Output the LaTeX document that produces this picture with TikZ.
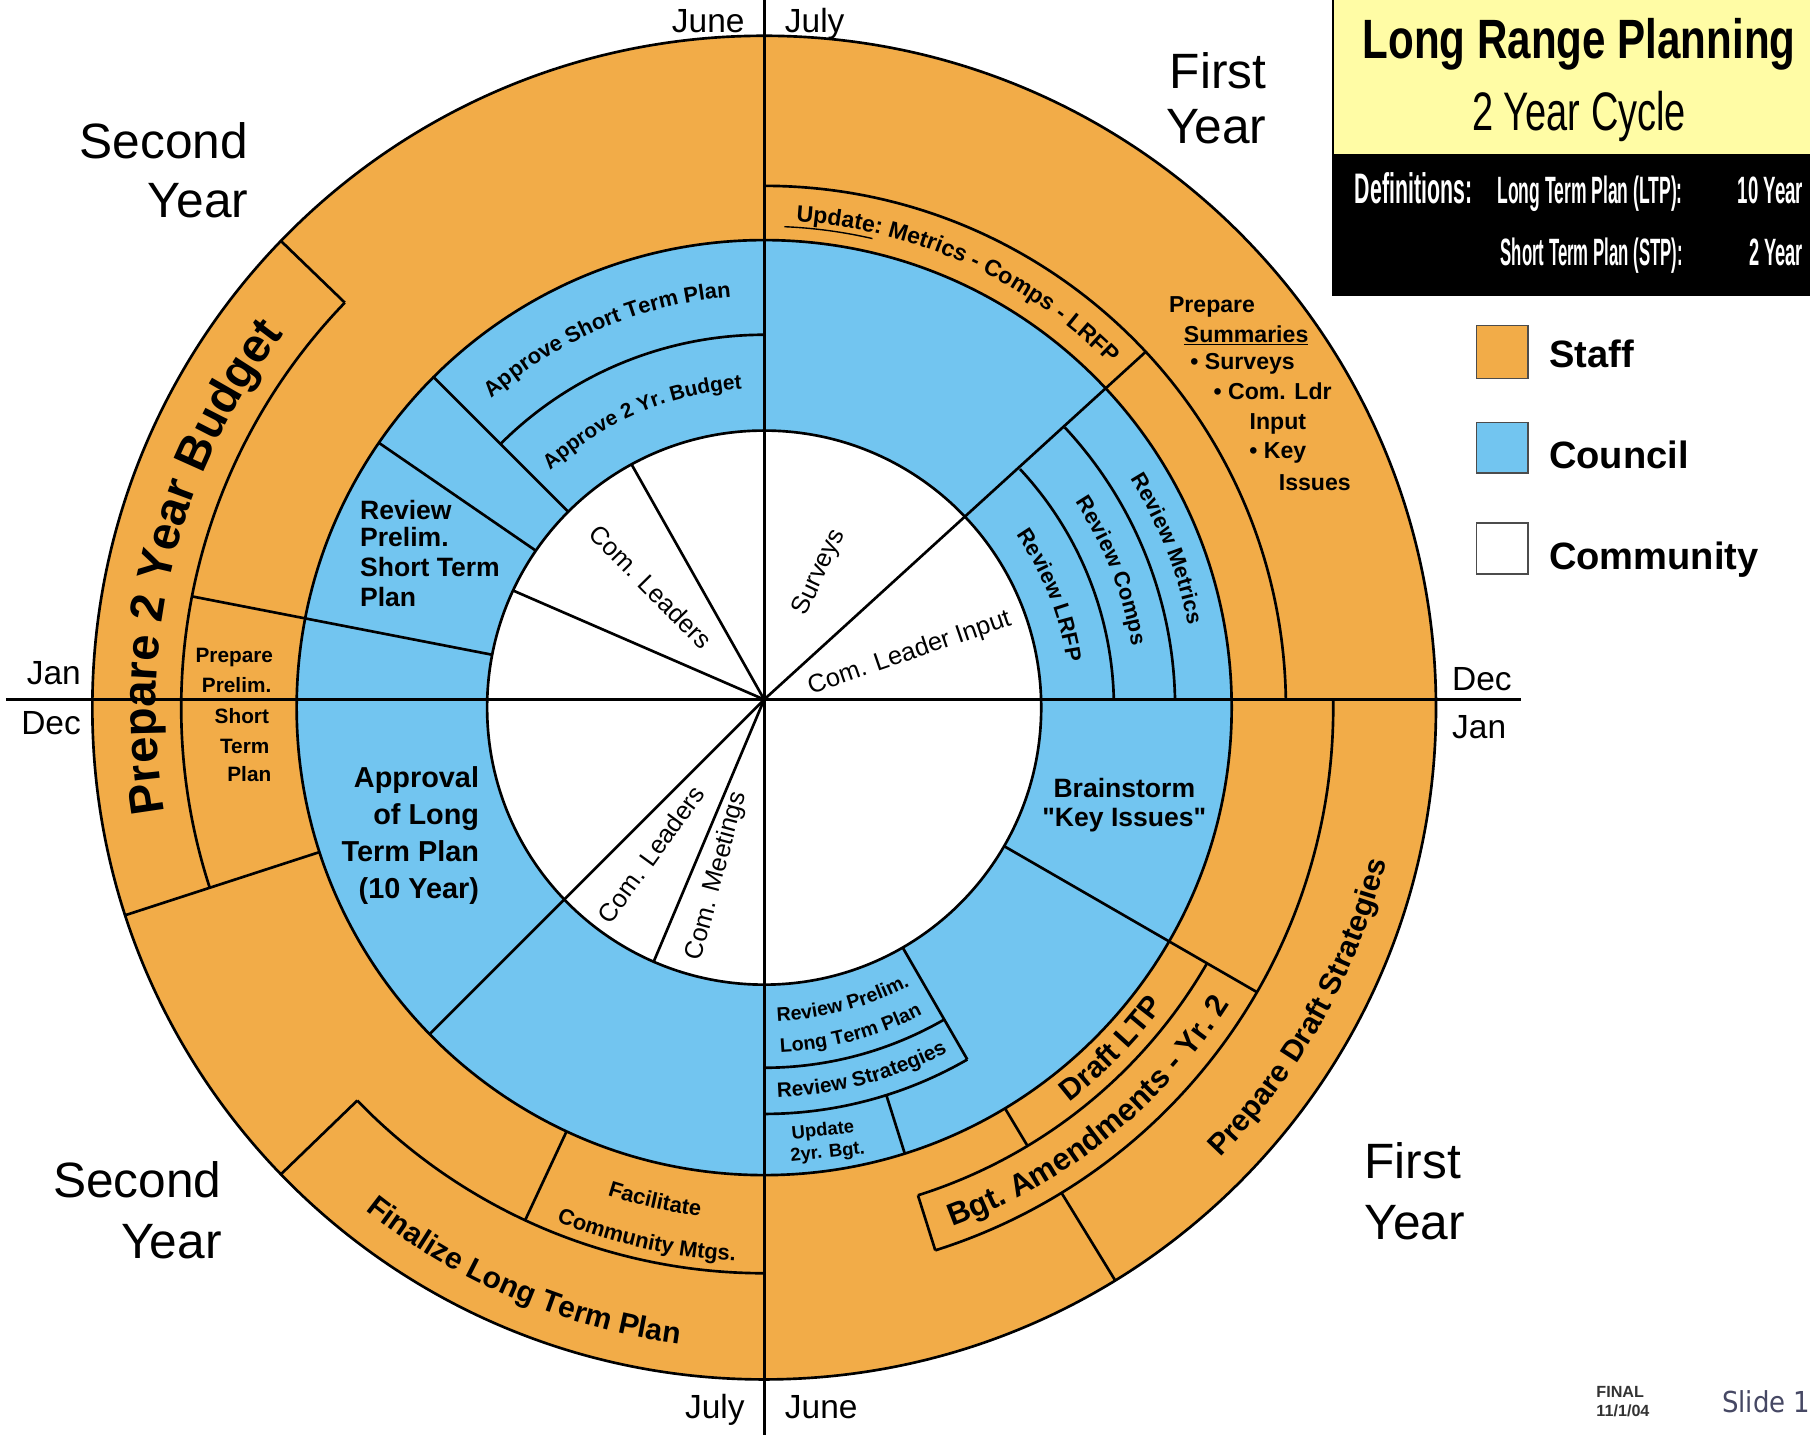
\documentclass[tikz,border=0pt]{standalone}
\usepackage{graphicx}
\usepackage{fontspec}
\setmainfont{Liberation Sans}
\newfontfamily\rawsans{Liberation Sans}[Ligatures=TeXOff]
\newfontfamily\slidefont{DejaVu Sans}
\usetikzlibrary{decorations.text}
\definecolor{orng}{RGB}{242,172,72}
\definecolor{blu}{RGB}{114,197,240}
\definecolor{ylw}{RGB}{255,252,165}
\definecolor{slidegray}{RGB}{70,72,100}
\newcommand\fsz[1]{\fontsize{#1pt}{#1pt}\selectfont}
\newcommand\radln[3]{\draw[ln] (#1:#2pt) -- (#1:#3pt);}
\newcommand\arcln[3]{\draw[ln] (#2:#1pt) arc[start angle=#2, end angle=#3, radius=#1pt];}
\newcommand\curvtxt[5]{\path[decorate, decoration={text along path, text align=center, text={|#5|#4}}] (#2:#1pt) arc[start angle=#2, end angle=#3, radius=#1pt];}
\begin{document}
\begin{tikzpicture}[x=1pt,y=1pt,
  ln/.style={line width=2.3pt, black},
  crossln/.style={line width=2.8pt, black},
  every node/.style={inner sep=0pt, outer sep=0pt}]
\useasboundingbox (-662,-637) rectangle (906,606);
\fill[white] (-662,-637) rectangle (906,606);
\coordinate (O) at (0,0);

% ================= wheel (circles centred slightly below the cross) =================
\begin{scope}[shift={(0,-7)}]
\coordinate (C) at (0,0);
\fill[orng] (C) circle[radius=582pt];
\fill[blu] (C) circle[radius=405pt];
\fill[white] (C) circle[radius=240pt];

% arcs (those meeting the horizontal line stop on it)
\arcln{323}{90}{135}
\arcln{452}{0.9}{90}
\arcln{303}{1.3}{43}
\arcln{356}{1.1}{43}
\arcln{505}{136}{198}
\arcln{490}{224}{270}
\arcln{312}{270}{300}
\arcln{352}{270}{300}
\arcln{443}{287.5}{330}
\arcln{493}{287.5}{360.8}

% lines from the crossing point
\draw[ln] (O) -- (43:452pt);
\draw[ln] (O) -- (118.6:240pt);
\draw[ln] (O) -- (155:240pt);
\draw[ln] (O) -- (224.3:405pt);
\draw[ln] (O) -- (246.5:240pt);

% radial segments
\radln{135}{240}{405}
\radln{145.5}{240}{405}
\radln{169}{240}{505}
\radln{330}{240}{493}
\radln{300}{240}{352}
\radln{287.5}{352}{405}
\radln{136}{505}{582}
\radln{198}{405}{582}
\radln{224}{490}{582}
\radln{245}{405}{490}
\radln{301}{405}{443}
\radln{301.5}{493}{582}
\radln{287.5}{443}{493}

% circles
\draw[ln] (C) circle[radius=582pt];
\draw[ln] (C) circle[radius=405pt];
\draw[ln] (C) circle[radius=240pt];

% curved council texts
\curvtxt{357}{135}{91}{Approve Short Term Plan}{\bfseries\fsz{19}}
\curvtxt{277}{135}{91}{Approve 2 Yr. Budget}{\bfseries\fsz{18}}
\curvtxt{374}{43}{0}{Review Metrics}{\bfseries\fsz{19}}
\curvtxt{323}{43}{0}{Review Comps}{\bfseries\fsz{19}}
\curvtxt{265}{43}{0}{Review LRFP}{\bfseries\fsz{19}}
\curvtxt{272}{270}{300}{Review Prelim.}{\bfseries\fsz{17}}
\curvtxt{299}{270}{300}{Long Term Plan}{\bfseries\fsz{17}}
\curvtxt{338}{270}{300}{Review Strategies}{\bfseries\fsz{18}}

% curved staff texts
\curvtxt{422}{89}{42}{Update: Metrics - Comps - LRFP}{\bfseries\fsz{20}}
\draw[line width=1.2pt] (87.6:417pt) arc[start angle=87.6, end angle=77, radius=417pt];
\curvtxt{432}{301}{330}{Draft LTP}{\bfseries\fsz{26}}
\curvtxt{478}{287.5}{330}{Bgt. Amendments - Yr. 2}{\bfseries\fsz{27}}
\curvtxt{555}{301.5}{360}{Prepare Draft Strategies}{\bfseries\fsz{26}}
\curvtxt{556}{224}{270}{Finalize Long Term Plan}{\bfseries\fsz{26}}
\curvtxt{444}{245}{270}{Facilitate}{\bfseries\fsz{19}}
\curvtxt{480}{245}{270}{Community Mtgs.}{\bfseries\fsz{19}}
\curvtxt{527}{196}{136}{Prepare 2 Year Budget}{\bfseries\fsz{41}}
\end{scope}

% ================= cross =================
\coordinate (hl) at (-657,0);
\coordinate (hr) at (656,0);
\coordinate (vt) at (0,606);
\coordinate (vb) at (0,-637);
\draw[crossln] (hl) -- (hr);
\draw[crossln] (vt) -- (vb);

% ================= month labels =================
\node[anchor=base east, font=\fsz{29}] (june1) at (-17,578) {June};
\node[anchor=base west, font=\fsz{29}] (july1) at (18,578) {July};
\node[anchor=base east, font=\fsz{29}] (july2) at (-17,-623) {July};
\node[anchor=base west, font=\fsz{29}] (june2) at (18,-623) {June};
\node[anchor=base east, font=\fsz{29}] (janL) at (-592,13) {Jan};
\node[anchor=base east, font=\fsz{29}] (decL) at (-592,-30) {Dec};
\node[anchor=base west, font=\fsz{29}] (decR) at (596,8) {Dec};
\node[anchor=base west, font=\fsz{29}] (janR) at (596,-34) {Jan};

% ================= year labels =================
\node[anchor=base east, font=\fsz{43}] (sy1a) at (-447,469) {Second};
\node[anchor=base east, font=\fsz{43}] (sy1b) at (-447,418) {Year};
\node[anchor=base east, font=\fsz{43}] (fy1a) at (435,529) {First};
\node[anchor=base east, font=\fsz{43}] (fy1b) at (435,482) {Year};
\node[anchor=base east, font=\fsz{43}] (sy2a) at (-470,-431) {Second};
\node[anchor=base east, font=\fsz{43}] (sy2b) at (-470,-484) {Year};
\node[anchor=base west, font=\fsz{43}] (fy2a) at (520,-415) {First};
\node[anchor=base west, font=\fsz{43}] (fy2b) at (520,-468) {Year};

% ================= title box =================
\fill[ylw] (493,473) rectangle (912,610);
\fill[black] (493,350) rectangle (912,473);
\draw[line width=1.5pt] (493,610) -- (493,350);
\node[anchor=base, font=\fsz{48}\bfseries] (title) at (706,555) {\scalebox{0.76}[1]{Long Range Planning}};
\node[anchor=base, font=\fsz{47}] (cycle) at (706,493) {\scalebox{0.7}[1]{2 Year Cycle}};
\node[anchor=base, font=\fsz{37}\bfseries, text=white] (defs) at (562.5,430) {\scalebox{0.5}[1]{Definitions:}};
\node[anchor=base, font=\fsz{33}\bfseries, text=white] (ltp) at (715.5,430) {\scalebox{0.46}[1]{Long Term Plan (LTP):}};
\node[anchor=base east, font=\fsz{33}\bfseries, text=white] (ltpv) at (900,430) {\scalebox{0.49}[1]{10 Year}};
\node[anchor=base, font=\fsz{33}\bfseries, text=white] (stp) at (717,376) {\scalebox{0.44}[1]{Short Term Plan (STP):}};
\node[anchor=base east, font=\fsz{33}\bfseries, text=white] (stpv) at (900,376) {\scalebox{0.48}[1]{2 Year}};

% ================= legend =================
\draw[line width=1.5pt, draw=black!70, fill=orng] (617,278) rectangle (662,324);
\draw[line width=1.5pt, draw=black!70, fill=blu] (617,196) rectangle (662,240);
\draw[line width=1.5pt, draw=black!70, fill=white] (617,109) rectangle (662,153);
\node[anchor=base west, font=\fsz{33}\bfseries] (staff) at (680,288) {Staff};
\node[anchor=base west, font=\fsz{33}\bfseries] (council) at (680,200) {Council};
\node[anchor=base west, font=\fsz{33}\bfseries] (community) at (680,113) {Community};

% ================= footer =================
\node[anchor=base west, font=\fsz{14}\bfseries, text=black!80] (final) at (721,-605) {FINAL};
\node[anchor=base west, font=\fsz{14}\bfseries, text=black!80] (date) at (721,-621) {11/1/04};
\node[anchor=base west, font=\slidefont\fsz{25}, text=slidegray] (slide) at (830,-618) {\scalebox{0.9}[1]{Slide 1}};

% ================= community (white) texts =================
\node[font=\fsz{22}, rotate=65] (surveys) at (48,110) {Surveys};
\node[font=\fsz{22}, rotate=19] (cli) at (126,40) {Com. Leader Input};
\node[font=\fsz{22}, rotate=-45.5] (cl1) at (-98,98) {Com. Leaders};
\node[font=\fsz{22}, rotate=54] (cl2) at (-98,-134) {Com. Leaders};
\node[font=\fsz{22}, rotate=75] (cm) at (-41,-153) {Com. Meetings};

% ================= council (blue) texts =================
\node[anchor=base west, font=\fsz{23}\bfseries] (rps1) at (-350,156) {Review};
\node[anchor=base west, font=\fsz{23}\bfseries] (rps2) at (-350,133) {Prelim.};
\node[anchor=base west, font=\fsz{23}\bfseries] (rps3) at (-350,107) {Short Term};
\node[anchor=base west, font=\fsz{23}\bfseries] (rps4) at (-350,81) {Plan};

\node[anchor=base east, font=\fsz{25}\bfseries] (alt1) at (-247,-76) {Approval};
\node[anchor=base east, font=\fsz{25}\bfseries] (alt2) at (-247,-108) {of Long};
\node[anchor=base east, font=\fsz{25}\bfseries] (alt3) at (-247,-140) {Term Plan};
\node[anchor=base east, font=\fsz{25}\bfseries] (alt4) at (-247,-172) {(10 Year)};

\node[anchor=base, font=\fsz{23}\bfseries] (bs1) at (312,-85) {Brainstorm};
\node[anchor=base, font=\rawsans\fsz{23}\bfseries] (bs2) at (312,-110) {"Key Issues"};

\node[font=\fsz{16}\bfseries, rotate=6] (ub1) at (51,-374) {Update};
\node[font=\fsz{16}\bfseries, rotate=6] (ub2) at (55,-393) {2yr. Bgt.};

% ================= staff (orange) straight texts =================
\node[anchor=base, font=\fsz{18}\bfseries] (pp1) at (-459,32) {Prepare};
\node[anchor=base, font=\fsz{18}\bfseries] (pp2) at (-457,6) {Prelim.};
\node[anchor=base, font=\fsz{18}\bfseries] (pp3) at (-452.5,-21) {Short};
\node[anchor=base, font=\fsz{18}\bfseries] (pp4) at (-450,-47) {Term};
\node[anchor=base, font=\fsz{18}\bfseries] (pp5) at (-446,-71) {Plan};

\node[anchor=base, font=\fsz{20}\bfseries] (ps1) at (388,335) {Prepare};
\node[anchor=base, font=\fsz{20}\bfseries] (ps2) at (417.5,309) {\underline{Summaries}};
\node[anchor=base, font=\fsz{20}\bfseries] (ps3) at (414.5,285.5) {\textbullet\ Surveys};
\node[anchor=base, font=\fsz{20}\bfseries] (ps4) at (440.5,259.5) {\textbullet\ Com. Ldr};
\node[anchor=base, font=\fsz{20}\bfseries] (ps5) at (445,233.5) {Input};
\node[anchor=base, font=\fsz{20}\bfseries] (ps6) at (445,209) {\textbullet\ Key};
\node[anchor=base, font=\fsz{20}\bfseries] (ps7) at (477,181.5) {Issues};
\end{tikzpicture}
\end{document}
